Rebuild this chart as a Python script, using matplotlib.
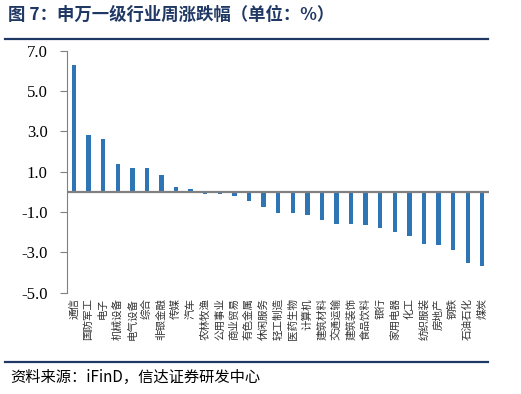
import matplotlib
matplotlib.use("Agg")
import matplotlib.pyplot as plt
from matplotlib.lines import Line2D

plt.rcParams['font.family'] = ['Noto Sans CJK SC', 'DejaVu Sans']

industries = ['通信', '国防军工', '电子', '机械设备', '电气设备', '综合', '非银金融',
              '传媒', '汽车', '农林牧渔', '公用事业', '商业贸易', '有色金属', '休闲服务',
              '轻工制造', '医药生物', '计算机', '建筑材料', '交通运输', '建筑装饰',
              '食品饮料', '银行', '家用电器', '化工', '纺织服装', '房地产', '钢铁',
              '石油石化', '煤炭']
changes = [6.29, 2.81, 2.63, 1.38, 1.20, 1.18, 0.82, 0.25, 0.15, -0.09, -0.09,
           -0.21, -0.47, -0.77, -1.05, -1.04, -1.15, -1.41, -1.58, -1.61, -1.65,
           -1.79, -1.99, -2.21, -2.59, -2.64, -2.90, -3.53, -3.66]
yticks = [7.0, 5.0, 3.0, 1.0, -1.0, -3.0, -5.0]

navy = '#1f3864'
bar_color = '#2e75b6'

fig = plt.figure(figsize=(5.21, 3.94), dpi=100)
ax = fig.add_axes([0.1286, 0.2571, 0.81, 0.6142])

x = list(range(len(industries)))
ax.bar(x, changes, width=0.3, color=bar_color, zorder=2)
ax.axhline(0, color='#808080', lw=1.6, zorder=3)

ax.set_xlim(-0.48, len(industries) - 0.54)
ax.set_ylim(-5, 7)
ax.set_yticks(yticks)
ax.set_yticklabels(['%.1f' % v for v in yticks], family='Liberation Serif', fontsize=12)
ax.tick_params(axis='y', direction='out', length=5, color='#808080', width=0.8, pad=9)

ax.set_xticks(x)
ax.set_xticklabels(industries, fontsize=7.6, rotation=90, ha='center', va='top',
                   color='#333333')
ax.tick_params(axis='x', length=0, pad=4)

for side in ['top', 'right', 'bottom']:
    ax.spines[side].set_visible(False)
ax.spines['left'].set_color('#808080')
ax.spines['left'].set_linewidth(0.8)

# title, rules and source note
fig.text(8 / 521, 1 - 15 / 394, '图 7：申万一级行业周涨跌幅（单位：%）', fontsize=12.5,
         fontweight='bold', color=navy, va='center', ha='left')
fig.add_artist(Line2D([5 / 521, 488 / 521], [1 - 38.5 / 394] * 2, color=navy, lw=1.6,
                      transform=fig.transFigure))
fig.add_artist(Line2D([5 / 521, 488 / 521], [1 - 362 / 394] * 2, color=navy, lw=1.6,
                      transform=fig.transFigure))
fig.text(10 / 521, 1 - 377 / 394, '资料来源：iFinD，信达证券研发中心', fontsize=11,
         color='black', va='center', ha='left', style='italic')

fig.savefig('out.png', dpi=100)
